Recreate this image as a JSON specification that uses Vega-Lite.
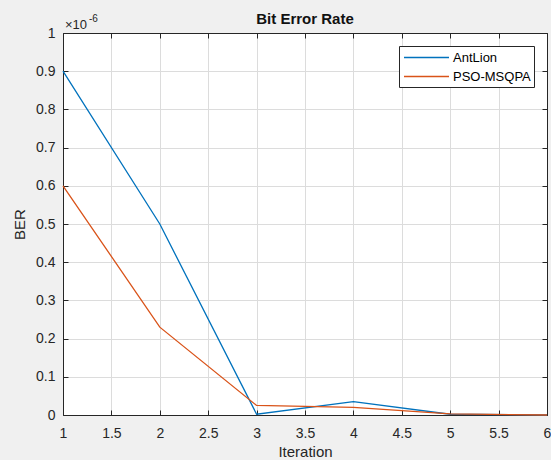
{
  "$schema": "https://vega.github.io/schema/vega-lite/v6.json",
  "width": 484,
  "height": 382,
  "autosize": "none",
  "padding": {"left": 63, "top": 33, "right": 4, "bottom": 45},
  "background": "#f0f0f0",
  "title": {"text": "Bit Error Rate", "fontSize": 15, "fontWeight": "bold", "font": "Liberation Sans", "color": "#111111", "offset": -13, "anchor": "middle", "frame": "group"},
  "config": {
    "font": "Liberation Sans",
    "view": {"fill": "white", "stroke": "#262626", "strokeWidth": 1}
  },
  "data": {
    "values": [
      {"iteration": 1, "ber": 9.0e-7, "algorithm": "AntLion"},
      {"iteration": 2, "ber": 5.0e-7, "algorithm": "AntLion"},
      {"iteration": 3, "ber": 2.0e-9, "algorithm": "AntLion"},
      {"iteration": 4, "ber": 3.5e-8, "algorithm": "AntLion"},
      {"iteration": 5, "ber": 2.0e-9, "algorithm": "AntLion"},
      {"iteration": 6, "ber": 0, "algorithm": "AntLion"},
      {"iteration": 1, "ber": 6.0e-7, "algorithm": "PSO-MSQPA"},
      {"iteration": 2, "ber": 2.3e-7, "algorithm": "PSO-MSQPA"},
      {"iteration": 3, "ber": 2.5e-8, "algorithm": "PSO-MSQPA"},
      {"iteration": 4, "ber": 2.0e-8, "algorithm": "PSO-MSQPA"},
      {"iteration": 5, "ber": 3.0e-9, "algorithm": "PSO-MSQPA"},
      {"iteration": 6, "ber": 0, "algorithm": "PSO-MSQPA"}
    ]
  },
  "layer": [
    {
      "mark": {"type": "line", "strokeWidth": 1.3},
      "encoding": {
        "x": {
          "field": "iteration", "type": "quantitative",
          "scale": {"domain": [1, 6], "nice": false, "zero": false},
          "axis": {
            "orient": "bottom", "title": "Iteration", "values": [1, 1.5, 2, 2.5, 3, 3.5, 4, 4.5, 5, 5.5, 6],
            "labelExpr": "format(datum.value, '~g')",
            "labelFontSize": 14, "labelColor": "#262626", "labelPadding": 16, "labelFlush": false,
            "titleFontSize": 15, "titleFontWeight": "normal", "titleColor": "#262626", "titlePadding": 4,
            "tickSize": -5, "tickColor": "#262626", "domainColor": "#262626",
            "grid": true, "gridColor": "#dcdcdc"
          }
        },
        "y": {
          "field": "ber", "type": "quantitative",
          "scale": {"domain": [0, 1e-6], "nice": false, "zero": true},
          "axis": {
            "orient": "left", "title": "BER", "values": [0, 1e-7, 2e-7, 3e-7, 4e-7, 5e-7, 6e-7, 7e-7, 8e-7, 9e-7, 1e-6],
            "labelExpr": "format(datum.value * 1e6, '.1~f')",
            "labelFontSize": 14, "labelColor": "#262626", "labelPadding": 13, "labelFlush": false,
            "titleFontSize": 15, "titleFontWeight": "normal", "titleColor": "#262626", "titlePadding": 8,
            "tickSize": -5, "tickColor": "#262626", "domainColor": "#262626",
            "grid": true, "gridColor": "#dcdcdc"
          }
        },
        "color": {
          "field": "algorithm", "type": "nominal",
          "scale": {"domain": ["AntLion", "PSO-MSQPA"], "range": ["#0072BD", "#D95319"]},
          "legend": {
            "title": null, "orient": "top-right", "offset": 13,
            "fillColor": "white", "strokeColor": "#262626", "padding": 3,
            "symbolType": "M-1,0H5", "symbolSize": 225, "symbolStrokeWidth": 1.3, "symbolOffset": 1,
            "labelFontSize": 13, "labelColor": "#000000", "labelOffset": 33, "rowPadding": 3
          }
        }
      }
    },
    {
      "data": {"values": [{"label": "×10"}]},
      "mark": {"type": "text", "align": "left", "baseline": "alphabetic", "dx": 2, "dy": -4, "fontSize": 13, "fontWeight": "normal", "color": "#262626"},
      "encoding": {
        "text": {"field": "label", "type": "nominal"},
        "x": {"datum": 1, "type": "quantitative", "axis": {"orient": "top", "title": null, "labels": false, "grid": false, "values": [1, 1.5, 2, 2.5, 3, 3.5, 4, 4.5, 5, 5.5, 6], "tickSize": -5, "tickColor": "#262626", "domainColor": "#262626"}},
        "y": {"datum": 1e-6, "type": "quantitative", "axis": {"orient": "right", "title": null, "labels": false, "grid": false, "values": [0, 1e-7, 2e-7, 3e-7, 4e-7, 5e-7, 6e-7, 7e-7, 8e-7, 9e-7, 1e-6], "tickSize": -5, "tickColor": "#262626", "domainColor": "#262626"}}
      }
    },
    {
      "data": {"values": [{"label": "-6"}]},
      "mark": {"type": "text", "align": "left", "baseline": "alphabetic", "dx": 26, "dy": -11, "fontSize": 10, "fontWeight": "normal", "color": "#262626"},
      "encoding": {
        "text": {"field": "label", "type": "nominal"},
        "x": {"datum": 1, "type": "quantitative", "axis": null},
        "y": {"datum": 1e-6, "type": "quantitative", "axis": null}
      }
    }
  ],
  "resolve": {"axis": {"x": "independent", "y": "independent"}}
}
